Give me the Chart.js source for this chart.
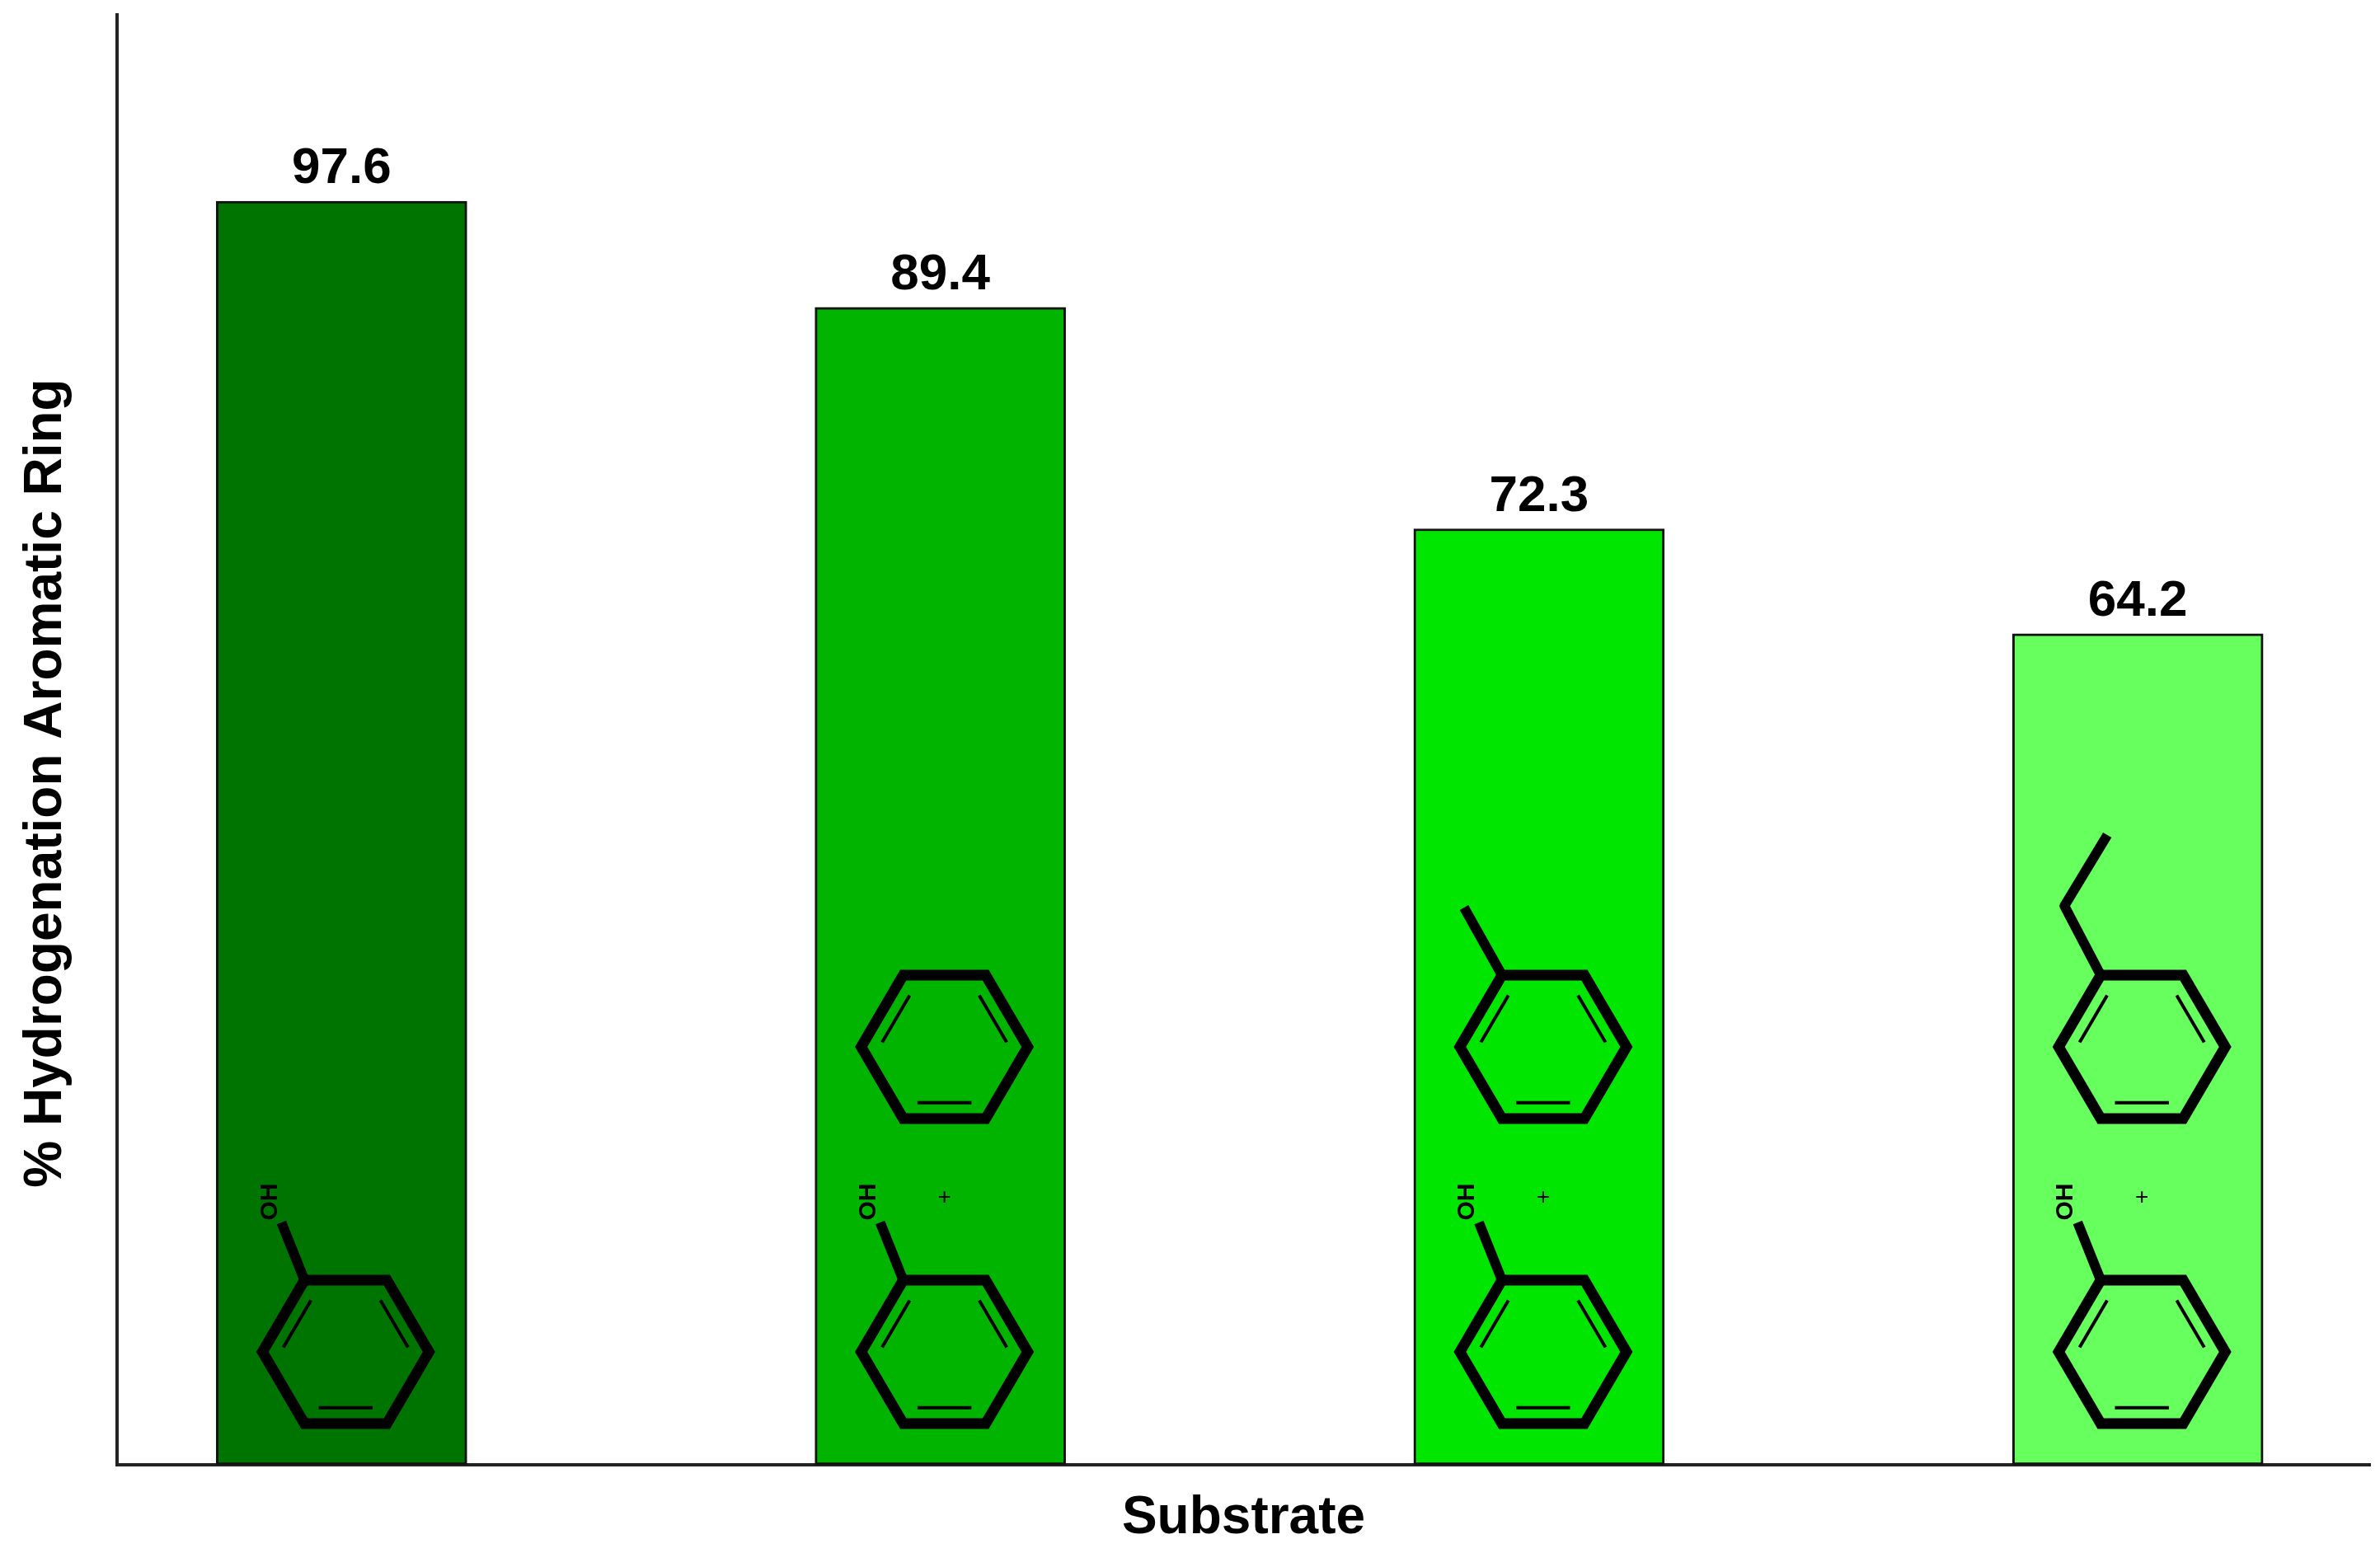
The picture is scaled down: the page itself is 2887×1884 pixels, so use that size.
<!DOCTYPE html>
<html>
<head>
<meta charset="utf-8">
<script src="https://cdn.jsdelivr.net/npm/chart.js@4.4.0/dist/chart.umd.min.js"></script>
<style>
  html, body { margin: 0; padding: 0; background: #fff; }
  #wrap { width: 2887px; height: 1884px; }
</style>
</head>
<body>
<div id="wrap"><canvas id="c" width="2887" height="1884"></canvas></div>
<script>
// données
const substrates = ["Phenol", "Phenol + Benzene", "Phenol + Toluene", "Phenol + Ethylbenzene"];
const hydrogenation = [97.6, 89.4, 72.3, 64.2];
const barColors = ["#007400", "#00b400", "#00e600", "#66ff5e"];
// groupe ajouté sur le 2e cycle : null = pas de 2e cycle
const secondRing = [null, "none", "methyl", "ethyl"];

const FONT = "'Liberation Sans', Arial, sans-serif";

function hexagon(ctx, cx, cy) {
    // sommets : hexagone à bords haut/bas plats
    const w = 101, t = 50, h = 87;
    const pts = [[-t, -h], [t, -h], [w, 0], [t, h], [-t, h], [-w, 0]];
    ctx.lineWidth = 13;
    ctx.lineJoin = "miter";
    ctx.beginPath();
    pts.forEach((p, i) => i ? ctx.lineTo(cx + p[0], cy + p[1]) : ctx.moveTo(cx + p[0], cy + p[1]));
    ctx.closePath();
    ctx.stroke();
    // doubles liaisons intérieures
    ctx.lineWidth = 4;
    const inner = [[1, 2], [3, 4], [5, 0]];
    inner.forEach(([a, b]) => {
        const s = 0.78;
        const pa = pts[a], pb = pts[b];
        const ax = pa[0] * s, ay = pa[1] * s, bx = pb[0] * s, by = pb[1] * s;
        const k = 0.08;
        ctx.beginPath();
        ctx.moveTo(cx + ax + (bx - ax) * k, cy + ay + (by - ay) * k);
        ctx.lineTo(cx + bx - (bx - ax) * k, cy + by - (by - ay) * k);
        ctx.stroke();
    });
    return pts.map(p => [cx + p[0], cy + p[1]]);
}

const decorPlugin = {
    id: "decor",
    afterDatasetsDraw(chart) {
        const ctx = chart.ctx;
        const meta = chart.getDatasetMeta(0);
        ctx.save();
        ctx.strokeStyle = "#000";
        ctx.fillStyle = "#000";
        meta.data.forEach((bar, i) => {
            const cx = bar.x;
            // valeur au-dessus de la barre
            ctx.font = "bold 62px " + FONT;
            ctx.textAlign = "center";
            ctx.textBaseline = "alphabetic";
            ctx.fillText(hydrogenation[i].toFixed(1), cx, bar.y - 22);

            // phénol
            const v = hexagon(ctx, cx + 5, 1640);
            ctx.lineWidth = 12;
            ctx.beginPath();
            ctx.moveTo(v[0][0], v[0][1]);
            ctx.lineTo(v[0][0] - 28, v[0][1] - 70);
            ctx.stroke();
            ctx.save();
            ctx.translate(v[0][0] - 42, v[0][1] - 95);
            ctx.rotate(-Math.PI / 2);
            ctx.font = "bold 30px " + FONT;
            ctx.textAlign = "center";
            ctx.textBaseline = "middle";
            ctx.fillText("OH", 0, 0);
            ctx.restore();

            if (secondRing[i] !== null) {
                ctx.font = "28px " + FONT;
                ctx.textAlign = "center";
                ctx.textBaseline = "middle";
                ctx.fillText("+", cx + 5, 1453);
                const u = hexagon(ctx, cx + 5, 1270);
                ctx.lineWidth = 12;
                ctx.lineJoin = "round";
                if (secondRing[i] === "methyl") {
                    ctx.beginPath();
                    ctx.moveTo(u[0][0], u[0][1]);
                    ctx.lineTo(u[0][0] - 46, u[0][1] - 82);
                    ctx.stroke();
                } else if (secondRing[i] === "ethyl") {
                    ctx.beginPath();
                    ctx.moveTo(u[0][0], u[0][1]);
                    ctx.lineTo(u[0][0] - 44, u[0][1] - 84);
                    ctx.lineTo(u[0][0] + 8, u[0][1] - 170);
                    ctx.stroke();
                }
            }
        });

        // titres des axes
        ctx.font = "bold 64px " + FONT;
        ctx.textAlign = "center";
        ctx.textBaseline = "middle";
        const a = chart.chartArea;
        ctx.fillText("Substrate", (a.left + a.right) / 2, 1842);
        ctx.save();
        ctx.translate(56, 950);
        ctx.rotate(-Math.PI / 2);
        ctx.fillText("% Hydrogenation Aromatic Ring", 0, 0);
        ctx.restore();
        ctx.restore();
    }
};

new Chart(document.getElementById("c").getContext("2d"), {
    type: "bar",
    data: {
        datasets: [{
            data: hydrogenation.map((v, i) => ({ x: i, y: v })),
            backgroundColor: barColors,
            borderColor: "#111",
            borderWidth: 3,
            borderSkipped: false,
            barThickness: 304
        }]
    },
    options: {
        responsive: false,
        animation: false,
        devicePixelRatio: 1,
        layout: { padding: { left: 142, top: 18, right: 12, bottom: 107 } },
        plugins: { legend: { display: false }, tooltip: { enabled: false } },
        scales: {
            x: {
                type: "linear",
                offset: false,
                min: -0.375,
                max: 3.388,
                ticks: { display: false },
                grid: { display: false, drawTicks: false, offset: false },
                border: { display: true, color: "#222", width: 4 }
            },
            y: {
                min: 0,
                max: 112,
                ticks: { display: false },
                grid: { display: false, drawTicks: false },
                border: { display: true, color: "#222", width: 4 }
            }
        }
    },
    plugins: [decorPlugin]
});
</script>
</body>
</html>
